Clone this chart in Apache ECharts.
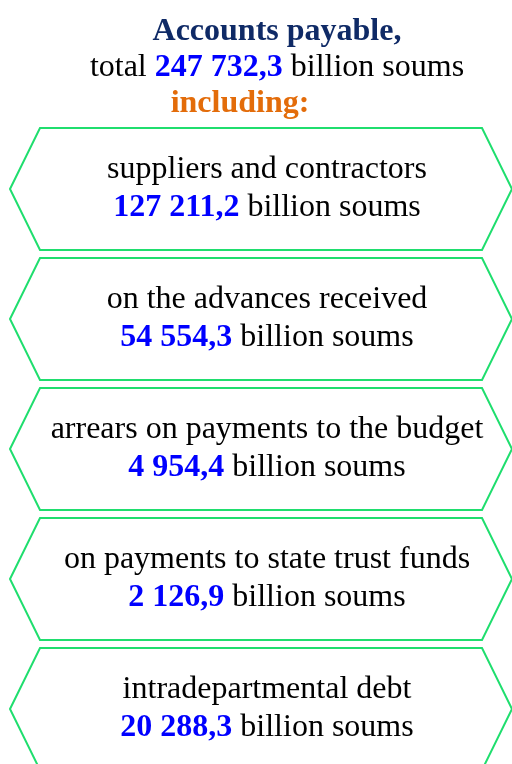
<!DOCTYPE html>
<html>
<head>
<meta charset="utf-8">
<script src="https://cdn.jsdelivr.net/npm/echarts@6/dist/echarts.min.js"></script>
<style>
  html, body { margin: 0; padding: 0; background: #fff; }
  #chart { width: 512px; height: 764px; }
</style>
</head>
<body>
<div id="chart"></div>
<script>
  // data
  const titleText = 'Accounts payable,';
  const totalValue = 247732.3;
  const unitText = 'billion soums';
  const includingText = 'including:';
  const categories = [
    'suppliers and contractors',
    'on the advances received',
    'arrears on payments to the budget',
    'on payments to state trust funds',
    'intradepartmental debt'
  ];
  const values = [127211.2, 54554.3, 4954.4, 2126.9, 20288.3];

  const serif = "'Liberation Serif', 'Times New Roman', serif";

  // 127211.2 -> "127 211,2"
  function fmt(v) {
    const parts = v.toFixed(1).split('.');
    return parts[0].replace(/\B(?=(\d{3})+(?!\d))/g, ' ') + ',' + parts[1];
  }

  const chart = echarts.init(document.getElementById('chart'));

  const option = {
    animation: false,
    grid: { left: 10, top: 124, width: 502, height: 650, outerBoundsMode: 'none', containLabel: false },
    xAxis: { type: 'value', min: 0, max: 1, show: false },
    yAxis: { type: 'category', data: categories, inverse: true, show: false },
    graphic: [
      {
        type: 'text', x: 277, y: 32, silent: true,
        style: { text: titleText, font: 'bold 32px ' + serif, fill: '#0f2a66', align: 'center', verticalAlign: 'middle' }
      },
      {
        type: 'text', x: 277, y: 68, silent: true,
        style: {
          text: 'total {n|' + fmt(totalValue) + '} ' + unitText,
          font: '32px ' + serif, fill: '#000', align: 'center', verticalAlign: 'middle',
          rich: { n: { font: 'bold 32px ' + serif, fill: '#0000ff' } }
        }
      },
      {
        type: 'text', x: 240, y: 104, silent: true,
        style: { text: includingText, font: 'bold 32px ' + serif, fill: '#e36c0a', align: 'center', verticalAlign: 'middle' }
      }
    ],
    series: [{
      type: 'custom',
      silent: true,
      clip: false,
      data: values.map((v, i) => [1, i, v]),
      encode: { x: 0, y: 1 },
      renderItem: function (params, api) {
        const i = api.value(1);
        const p0 = api.coord([0, i]);
        const p1 = api.coord([1, i]);
        const yc = p0[1];
        const half = 61;
        const inset = 30;
        const x0 = p0[0], x1 = p1[0];
        return {
          type: 'group',
          children: [
            {
              type: 'polygon',
              shape: {
                points: [
                  [x0, yc], [x0 + inset, yc - half], [x1 - inset, yc - half],
                  [x1, yc], [x1 - inset, yc + half], [x0 + inset, yc + half]
                ]
              },
              style: { fill: '#fff', stroke: '#1fde6e', lineWidth: 2 }
            },
            {
              type: 'text',
              x: (x0 + x1) / 2 + 6,
              y: yc,
              style: {
                text: categories[i] + '\n{n|' + fmt(api.value(2)) + '} ' + unitText,
                font: '32px ' + serif,
                fill: '#000',
                align: 'center',
                verticalAlign: 'middle',
                lineHeight: 38,
                rich: { n: { font: 'bold 32px ' + serif, fill: '#0000ff', lineHeight: 38 } }
              }
            }
          ]
        };
      }
    }]
  };

  chart.setOption(option);
</script>
</body>
</html>
